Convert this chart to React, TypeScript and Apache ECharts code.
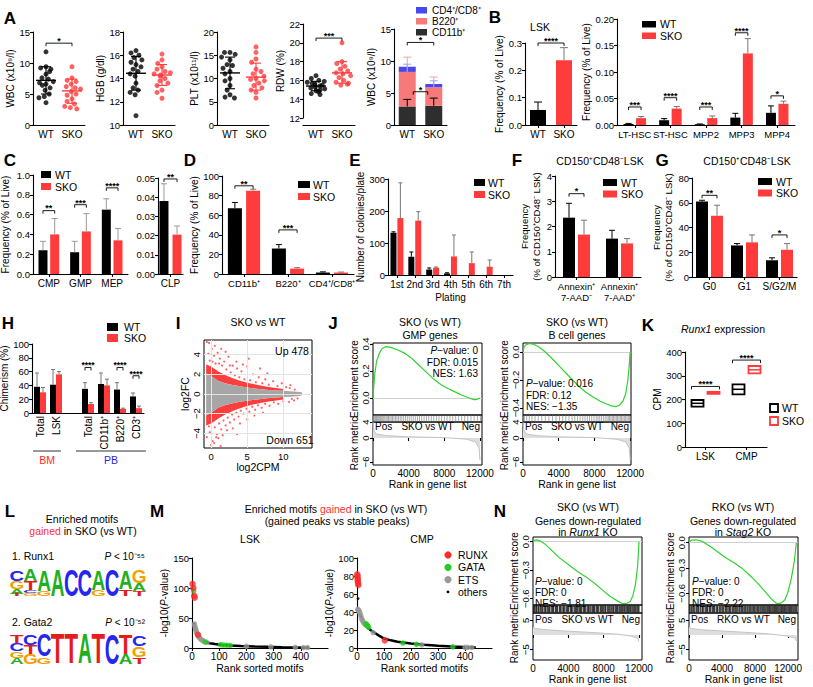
import React, { useEffect, useRef } from 'react';
import * as echarts from 'echarts';

const FONT = '"Liberation Sans", Arial, Helvetica, sans-serif';
const RED = '#ff3b3b';
const GREEN = '#2fd22f';
const W = 813;
const H = 687;

// ---------------- A ----------------
const GROUPS = ['WT', 'SKO'];
const WBC_WT = [11.8, 9.4, 9.2, 9.0, 8.6, 8.2, 7.6, 7.4, 7.0, 6.8, 6.6, 6.4, 6.0, 5.6, 5.0, 4.6, 4.4, 3.6];
const WBC_SKO = [9.4, 7.6, 7.2, 7.0, 6.6, 6.2, 6.0, 5.8, 5.4, 5.0, 4.8, 4.2, 3.8, 3.4, 3.0, 2.8, 2.6];
const WBC_STATS = [[7.2, 5.0, 9.4], [5.5, 3.5, 7.4]];
const HGB_WT = [16.4, 16.2, 16.0, 15.8, 15.6, 15.4, 15.2, 15.0, 14.8, 14.6, 14.4, 14.2, 13.6, 13.2, 13.0, 12.8, 12.6, 10.8];
const HGB_SKO = [16.1, 15.6, 15.3, 15.0, 14.8, 14.6, 14.5, 14.4, 14.3, 14.2, 14.0, 13.8, 13.6, 13.4, 13.0, 12.8, 12.3];
const HGB_STATS = [[14.45, 13.0, 15.9], [14.3, 13.4, 15.2]];
const PLT_WT = [15.6, 15.6, 15.2, 14.6, 14.0, 13.0, 12.8, 12.2, 11.5, 11.0, 10.0, 9.5, 8.5, 7.5, 6.5, 6.0, 5.8];
const PLT_SKO = [16.8, 15.6, 14.2, 13.5, 12.0, 11.5, 11.0, 10.5, 10.0, 9.8, 9.5, 9.0, 8.5, 8.0, 7.5, 7.0, 5.8];
const PLT_STATS = [[11.2, 7.8, 14.6], [10.3, 7.5, 13.3]];
const RDW_WT = [16.5, 16.2, 16.0, 15.9, 15.8, 15.7, 15.6, 15.5, 15.4, 15.3, 15.2, 15.1, 15.0, 14.9, 14.8, 14.6, 14.5];
const RDW_SKO = [20.0, 18.0, 17.8, 17.5, 17.2, 17.0, 16.8, 16.7, 16.5, 16.3, 16.0, 15.8, 15.7, 15.6, 15.5];
const RDW_STATS = [[15.4, 14.9, 15.9], [16.8, 15.7, 18.0]];
const A5_CD11B = [2.9, 3.0];
const A5_B220 = [5.4, 2.9];
const A5_T = [0.8, 0.5];
const A5_ERR = [[4.0, 4.2], [10.6, 7.5], [9.5, 6.9]];

// ---------------- B ----------------
const LSK_VALS = [0.055, 0.237];
const LSK_ERR = [0.084, 0.283];
const HSPC_CATS = ['LT-HSC', 'ST-HSC', 'MPP2', 'MPP3', 'MPP4'];
const HSPC_WT = [0.002, 0.009, 0.0015, 0.014, 0.023];
const HSPC_WT_ERR = [0.003, 0.012, 0.002, 0.022, 0.036];
const HSPC_SKO = [0.013, 0.031, 0.013, 0.135, 0.040];
const HSPC_SKO_ERR = [0.016, 0.035, 0.017, 0.163, 0.045];
const HSPC_SIG = [0.034, 0.0515, 0.034, 0.174, 0.055];
const HSPC_SIG_LBL = ['***', '****', '***', '****', '*'];

// ---------------- C ----------------
const PROG_CATS = ['CMP', 'GMP', 'MEP'];
const PROG_WT = [0.24, 0.22, 0.65];
const PROG_WT_ERR = [0.33, 0.33, 0.76];
const PROG_SKO = [0.40, 0.43, 0.34];
const PROG_SKO_ERR = [0.56, 0.61, 0.46];
const PROG_SIG = [0.64, 0.70, 0.87];
const PROG_SIG_LBL = ['**', '***', '****'];
const CLP_CATS = ['CLP'];
const CLP_WT = [0.038];
const CLP_WT_ERR = [0.047];
const CLP_SKO = [0.0205];
const CLP_SKO_ERR = [0.025];

// ---------------- D ----------------
const LIN_CATS = ['CD11b⁺', 'B220⁺', 'CD4⁺/CD8⁺'];
const LIN_WT = [67, 26, 1.5];
const LIN_WT_ERR = [73, 30, 2.2];
const LIN_SKO = [85, 5.5, 1.5];
const LIN_SKO_ERR = [86.5, 6.5, 2.0];
const LIN_SIG = [[0, 90, '**'], [1, 45, '***']];

// ---------------- E ----------------
const PLATING = ['1st', '2nd', '3rd', '4th', '5th', '6th', '7th'];
const CFU_WT = [132, 57, 17, 5, 0, 0, 0];
const CFU_WT_ERR = [135, 72, 22, 7, 0, 0, 0];
const CFU_SKO = [178, 170, 23, 58, 37, 26, 0];
const CFU_SKO_ERR = [288, 198, 25, 125, 72, 47, 0];

// ---------------- F / G ----------------
const APO_CATS = ['Annexin⁺\n7-AAD⁻', 'Annexin⁺\n7-AAD⁺'];
const APO_WT = [2.35, 1.52];
const APO_WT_ERR = [2.92, 1.85];
const APO_SKO = [1.68, 1.33];
const APO_SKO_ERR = [2.25, 1.52];
const APO_SIG = [[0, 3.3, '*']];
const CYC_CATS = ['G0', 'G1', 'S/G2/M'];
const CYC_WT = [61, 25.5, 13.5];
const CYC_WT_ERR = [62, 27, 15.5];
const CYC_SKO = [49.5, 28, 22];
const CYC_SKO_ERR = [58, 34, 27];
const CYC_SIG = [[0, 66, '**'], [2, 34, '*']];

// ---------------- H ----------------
const CHIM_CATS = ['Total', 'LSK', '', 'Total', 'CD11b⁺', 'B220⁺', 'CD3⁺'];
const CHIM_WT = [38, 41, null, 35, 42, 34, 24];
const CHIM_WT_ERR = [58, 63, null, 44, 58, 44, 29];
const CHIM_SKO = [30, 56, null, 13, 40, 6, 7];
const CHIM_SKO_ERR = [37, 60, null, 15, 49, 7, 10];
const CHIM_SIG = [[3, 66, '****'], [5, 66, '****'], [6, 54, '****']];

// ---------------- I (MA plot) ----------------
const MA_GREY = [[-0.7, 2.1], [0, 1.8], [1, 1.32], [2, 1.08], [3, 0.92], [4, 0.78], [5, 0.66], [6, 0.56], [7, 0.49], [8, 0.42], [9, 0.36], [10, 0.32], [11, 0.28], [12, 0.24], [12.6, 0.18], [12.6, -0.15], [12, -0.22], [11, -0.27], [10, -0.31], [9, -0.36], [8, -0.42], [7, -0.5], [6, -0.58], [5, -0.68], [4, -0.8], [3, -0.95], [2, -1.12], [1, -1.38], [0, -1.9], [-0.7, -2.2]];
const MA_UP_BAND = [[-0.7, 3.0], [0, 2.8], [1, 2.3], [2, 1.9], [3, 1.6], [4, 1.35], [5, 1.15], [6, 1.0], [7, 0.85], [8, 0.72], [9, 0.62], [10, 0.52], [10, 0.32], [9, 0.36], [8, 0.42], [7, 0.49], [6, 0.56], [5, 0.66], [4, 0.78], [3, 0.92], [2, 1.08], [1, 1.32], [0, 1.8], [-0.7, 2.1]];
const MA_DOWN_BAND = [[-0.7, -2.2], [0, -1.9], [1, -1.38], [2, -1.12], [3, -0.95], [4, -0.8], [5, -0.68], [6, -0.58], [7, -0.5], [8, -0.42], [9, -0.36], [10, -0.31], [10, -0.55], [9, -0.65], [8, -0.76], [7, -0.9], [6, -1.05], [5, -1.22], [4, -1.45], [3, -1.72], [2, -2.05], [1, -2.5], [0, -3.0], [-0.7, -3.2]];
const MA_UP = [[-0.6, 5.3], [-0.3, 5.2], [0.1, 4.6], [0.4, 3.9], [-0.2, 3.4], [0.6, 3.1], [0.9, 4.2], [1.2, 3.6], [1.5, 2.9], [1.8, 3.3], [2.1, 2.5], [2.4, 3.8], [2.7, 2.2], [3.0, 2.9], [3.3, 1.9], [3.6, 2.6], [3.9, 1.7], [4.2, 2.3], [4.6, 1.5], [5.0, 2.8], [5.4, 1.4], [5.8, 2.0], [6.2, 1.2], [6.6, 1.7], [7.1, 1.1], [7.5, 1.5], [8.0, 0.95], [8.6, 1.3], [9.2, 0.8], [9.8, 1.1], [10.4, 0.7], [11.0, 0.9], [0.2, 3.3], [1.1, 3.1], [2.0, 4.3], [3.5, 3.3], [4.4, 3.0], [5.2, 3.6], [6.8, 2.6], [0.5, 4.9], [1.4, 4.6], [2.6, 2.9], [-0.4, 4.1], [7.8, 2.1], [10.9, 0.6], [11.6, 0.45]];
const MA_DOWN = [[-0.6, -4.4], [-0.2, -3.9], [0.2, -4.8], [0.5, -3.4], [0.8, -4.1], [1.1, -3.0], [1.4, -3.6], [1.7, -2.7], [2.0, -3.2], [2.3, -2.4], [2.6, -2.9], [2.9, -2.1], [3.2, -2.6], [3.5, -1.9], [3.8, -2.3], [4.1, -1.7], [4.5, -2.0], [4.9, -1.5], [5.3, -1.8], [5.7, -1.3], [6.1, -1.6], [6.5, -1.15], [7.0, -1.4], [7.5, -1.0], [8.1, -1.2], [8.7, -0.85], [9.3, -1.0], [10.0, -0.75], [10.8, -0.8], [11.5, -0.65], [0.0, -5.2], [0.4, -5.0], [1.0, -4.5], [1.6, -4.2], [-0.3, -3.3], [2.2, -3.7], [3.0, -3.5], [4.0, -3.0], [5.0, -2.6], [6.0, -2.2], [7.2, -1.9], [1.3, -5.3], [0.7, -4.4], [3.6, -4.1], [11.2, -0.5], [12.0, -0.45]];
const MA_TICKS_X = [0, 5, 10];
const MA_TICKS_Y = [-4, -2, 0, 2, 4];

// ---------------- J / N (GSEA) ----------------
const RANK_TICKS = [0, 4000, 8000, 12000];
const J1_ES = [[0, 0], [80, 0.08], [200, 0.18], [400, 0.27], [700, 0.33], [1000, 0.365], [1400, 0.38], [2000, 0.375], [2800, 0.355], [3600, 0.33], [4400, 0.29], [5200, 0.24], [6000, 0.19], [6800, 0.14], [7600, 0.1], [8400, 0.07], [9200, 0.045], [10000, 0.02], [10800, 0.0], [11300, -0.012], [11700, -0.01], [12000, 0]];
const J2_ES = [[0, 0], [100, 0.03], [300, 0.05], [700, 0.06], [1200, 0.055], [1800, 0.035], [2500, 0.0], [3300, -0.05], [4200, -0.11], [5100, -0.17], [6000, -0.23], [6900, -0.28], [7800, -0.32], [8600, -0.35], [9300, -0.37], [9900, -0.385], [10400, -0.39], [10800, -0.38], [11200, -0.35], [11500, -0.3], [11750, -0.2], [11900, -0.1], [12000, 0]];
const N1_ES = [[0, 0], [150, 0.015], [400, 0.02], [800, 0.01], [1300, -0.02], [2000, -0.08], [3000, -0.17], [4000, -0.24], [5000, -0.31], [6000, -0.37], [7000, -0.44], [8000, -0.52], [8800, -0.58], [9500, -0.62], [10100, -0.65], [10600, -0.65], [11000, -0.63], [11300, -0.57], [11600, -0.45], [11850, -0.25], [12000, 0]];
const N2_ES = [[0, 0.01], [300, 0.03], [900, 0.035], [1500, 0.02], [2500, -0.04], [3500, -0.11], [4500, -0.18], [5500, -0.24], [6500, -0.31], [7500, -0.4], [8500, -0.5], [9400, -0.6], [10000, -0.67], [10600, -0.72], [11100, -0.72], [11600, -0.68], [12000, -0.58], [12400, -0.42], [12750, -0.22], [13000, 0]];
const J1_HITS = [40, 120, 210, 300, 380, 470, 560, 650, 760, 860, 980, 1090, 1210, 1330, 1470, 1600, 1740, 1890, 2040, 2190, 2350, 2520, 2690, 2870, 3050, 3240, 3440, 3640, 3850, 4060, 4280, 4510, 4740, 4980, 5220, 5470, 5730, 5990, 6260, 6540, 6820, 7110, 7400, 7700, 8000, 8310, 8630, 8950, 9280, 9610, 9950, 10290, 10640, 10990, 11340, 11700, 12050];
const J2_HITS = [150, 420, 700, 1000, 1350, 1700, 2100, 2500, 2900, 3300, 3700, 4100, 4450, 4800, 5150, 5500, 5800, 6100, 6400, 6700, 6950, 7200, 7450, 7700, 7950, 8200, 8400, 8600, 8800, 9000, 9200, 9400, 9550, 9700, 9850, 10000, 10150, 10300, 10450, 10600, 10750, 10900, 11050, 11200, 11350, 11500, 11650, 11800, 11950];
const N1_HITS = [70, 160, 330, 410, 590, 680, 870, 1010, 1120, 1340, 1420, 1610, 1790, 1850, 2060, 2230, 2310, 2540, 2660, 2790, 3020, 3110, 3290, 3480, 3520, 3750, 3890, 4010, 4230, 4370, 4420, 4660, 4810, 4930, 5070, 5240, 5390, 5460, 5680, 5820, 5910, 6130, 6270, 6350, 6540, 6720, 6860, 6940, 7150, 7280, 7390, 7610, 7730, 7880, 8020, 8170, 8240, 8460, 8590, 8710, 8860, 9040, 9130, 9320, 9470, 9560, 9740, 9860, 9990, 10120, 10280, 10390, 10540, 10680, 10790, 10930, 11060, 11210, 11340, 11480, 11610, 11770, 11890, 11990];
const N2_HITS = [90, 260, 380, 560, 710, 930, 1080, 1190, 1420, 1630, 1710, 1960, 2120, 2250, 2480, 2610, 2830, 2990, 3120, 3360, 3470, 3690, 3850, 4020, 4170, 4390, 4520, 4710, 4880, 5010, 5230, 5380, 5560, 5690, 5840, 6050, 6180, 6370, 6510, 6680, 6830, 7020, 7150, 7330, 7480, 7640, 7800, 7940, 8110, 8270, 8410, 8590, 8720, 8880, 9050, 9190, 9330, 9480, 9640, 9770, 9910, 10060, 10190, 10340, 10470, 10620, 10760, 10890, 11040, 11180, 11310, 11460, 11590, 11730, 11870, 12010, 12150, 12290, 12430, 12580, 12720, 12860, 13000];
const RM_J = [[0, 4], [100, 1.8], [400, 1.0], [1500, 0.6], [4000, 0.3], [8000, 0.1], [10500, -0.3], [11500, -1.0], [11900, -2.5], [12000, -5.5]];
const RM_N1 = [[0, 2.6], [300, 2.2], [1500, 1.8], [4000, 1.3], [7000, 0.8], [9500, 0.3], [11000, -0.3], [11800, -1.0], [12000, -2.2]];
const RM_N2 = [[0, 2.6], [300, 2.2], [1500, 1.8], [4500, 1.3], [7500, 0.8], [10000, 0.3], [11800, -0.3], [12800, -1.0], [13100, -2.2]];

// ---------------- K ----------------
const K_CATS = ['LSK', 'CMP'];
const K_WT = [[170, 184, 198], [222, 243, 264]];   // low, median, high
const K_SKO = [[224, 228, 232], [310, 325, 341]];
const K_SIG = [[0, 255, '****'], [1, 366, '****']];

// ---------------- L (motif logos, letter heights in px) ----------------
const LOGO_RUNX1 = [
  [['C', 11], ['G', 8], ['A', 5], ['T', 2]],
  [['A', 12], ['T', 9], ['C', 3], ['G', 3]],
  [['A', 21], ['G', 5]],
  [['A', 26]],
  [['C', 26]],
  [['C', 26]],
  [['A', 20], ['G', 6]],
  [['C', 26]],
  [['A', 19], ['T', 7]],
  [['G', 13], ['A', 8], ['T', 5]],
];
const LOGO_GATA2 = [
  [['T', 8], ['C', 8], ['G', 7], ['A', 6]],
  [['C', 10], ['T', 9], ['G', 10]],
  [['C', 23], ['G', 7]],
  [['T', 30]],
  [['T', 30]],
  [['A', 30]],
  [['T', 30]],
  [['C', 30]],
  [['T', 20], ['A', 10]],
  [['C', 11], ['G', 11], ['T', 7]],
];

// ---------------- M ----------------
const M1_OTHERS = [[8, 42], [10, 37], [12, 33], [15, 28], [18, 24], [22, 20], [27, 17], [33, 14], [40, 12], [50, 10], [65, 8], [85, 6.5], [110, 5], [140, 4], [180, 3.2], [230, 2.5], [280, 1.9], [330, 1.4], [380, 1], [430, 0.6]];
const M1_ETS = [[9, 40], [11, 36], [13, 32], [15, 29], [17, 26], [19, 24], [21, 22], [24, 19], [28, 17], [32, 15], [37, 13], [43, 11.5], [55, 9.5], [200, 3], [290, 1.9], [380, 1.1], [410, 0.8], [425, 0.7]];
const M1_GATA = [[6, 95], [48, 10], [105, 5.5], [115, 5], [127, 4.6], [140, 4.2]];
const M1_RUNX = [[2, 107], [5, 100], [8, 87], [10, 84], [22, 22]];
const M2_OTHERS = [[6, 41], [9, 39], [12, 37], [16, 34], [20, 31], [25, 28], [30, 26], [40, 23], [50, 20], [65, 17], [80, 14], [100, 10.5], [125, 8.5], [150, 7], [200, 5], [250, 3.7], [300, 2.6], [350, 1.7], [400, 1], [440, 0.5]];
const M2_OTHER_PTS = [[4, 55]];
const M2_ETS = [[3, 43], [5, 42], [7, 41.5], [9, 40], [12, 38], [15, 35], [18, 32], [21, 30], [25, 28], [30, 26], [60, 17], [240, 3.5], [400, 0.8], [410, 0.7], [425, 0.6]];
const M2_GATA = [[33, 27], [36, 26], [38, 25], [40, 24], [43, 23], [170, 5.5], [220, 4], [355, 1.3]];
const M2_RUNX = [[1, 82], [2, 80], [2, 78], [3, 76], [3, 74], [4, 72], [5, 70], [103, 8.5]];

const LETTER_COLORS: any = { A: '#1fb01f', C: '#2626ee', G: '#f5a000', T: '#e61c1c' };
const LETTER_INK: any = { A: 0.70, C: 0.66, G: 0.70, T: 0.60 };

function buildOption(): any {
  const grids: any[] = [];
  const xAxes: any[] = [];
  const yAxes: any[] = [];
  const series: any[] = [];
  const gfx: any[] = [];
  const AX = { color: '#000', width: 1.1 };
  const ts = (size: number, extra: any = {}) => ({ fontFamily: FONT, fontSize: size, color: '#000', ...extra });
  const fmtFixed = (d: number) => (v: number) => v.toFixed(d);
  const fmtSigned = (d: number) => (v: number) => (v < 0 ? '−' : '') + Math.abs(v).toFixed(d);
  const fmtPlain = (v: number) => String(v);

  const addGrid = (l: number, t: number, w: number, h: number, xa: any, ya: any, border = false) => {
    const i = grids.length;
    grids.push({ left: l, top: t, width: w, height: h, containLabel: false, outerBoundsMode: 'none', show: border, borderColor: '#000', borderWidth: 1, backgroundColor: 'rgba(0,0,0,0)' });
    xAxes.push({ gridIndex: i, ...xa });
    yAxes.push({ gridIndex: i, ...ya });
    return i;
  };

  const yVal = (min: number, max: number, interval: number, name: string, gap: number, fmt?: any, nameStyle?: any) => ({
    type: 'value', min, max, interval,
    name: name || '', nameLocation: 'middle', nameGap: gap, nameTextStyle: nameStyle || ts(10),
    axisLine: { show: true, lineStyle: AX },
    axisTick: { show: true, length: 3, lineStyle: AX },
    axisLabel: fmt ? { ...ts(9.5), margin: 3, formatter: fmt } : { ...ts(9.5), margin: 3 },
    splitLine: { show: false },
  });

  const xCat = (data: string[], o: any = {}) => ({
    type: 'category', data,
    axisLine: { show: true, lineStyle: AX },
    axisTick: { show: o.ticks !== false, alignWithLabel: true, length: 3, lineStyle: AX },
    axisLabel: { ...ts(o.size || 10), margin: o.margin ?? 4, interval: 0, rotate: o.rotate || 0, lineHeight: o.lineHeight || 11, overflow: 'none', hideOverlap: false },
    splitLine: { show: false },
    ...(o.extra || {}),
  });

  const barS = (gi: number, data: any[], color: string, width: number, gap = '30%', extra: any = {}) => ({
    type: 'bar', xAxisIndex: gi, yAxisIndex: gi, data: data.map((v) => (v == null ? '-' : v)),
    barWidth: width, barGap: gap, itemStyle: { color }, silent: true, ...extra,
  });

  const errS = (gi: number, base: any[], tops: any[], off: number, color: any, cap = 3, lw = 1) => ({
    type: 'custom', xAxisIndex: gi, yAxisIndex: gi, silent: true, clip: false, z: 5,
    data: base.map((v, i) => [i, v, tops[i]]).filter((r) => r[1] != null && r[2] != null && r[2] > r[1]),
    renderItem: (p: any, api: any) => {
      const i = api.value(0);
      const a = api.coord([i, api.value(1)]);
      const b = api.coord([i, api.value(2)]);
      const x = a[0] + off;
      const c = Array.isArray(color) ? color[i] : color;
      return {
        type: 'group', children: [
          { type: 'line', shape: { x1: x, y1: a[1], x2: x, y2: b[1] }, style: { stroke: c, lineWidth: lw } },
          { type: 'line', shape: { x1: x - cap, y1: b[1], x2: x + cap, y2: b[1] }, style: { stroke: c, lineWidth: lw } },
        ],
      };
    },
  });

  const sigS = (gi: number, rows: any[], offL: number, offR: number, size = 9) => ({
    type: 'custom', xAxisIndex: gi, yAxisIndex: gi, silent: true, clip: false, z: 6,
    data: rows.map((r) => [r[0], r[2], r[1]]),
    renderItem: (p: any, api: any) => {
      const r = rows[p.dataIndex];
      const a = api.coord([r[0], r[2]]);
      const b = api.coord([r[1], r[2]]);
      const x1 = a[0] + offL;
      const x2 = b[0] + offR;
      const y = a[1];
      return {
        type: 'group', children: [
          { type: 'polyline', shape: { points: [[x1, y + 3], [x1, y], [x2, y], [x2, y + 3]] }, style: { stroke: '#000', lineWidth: 0.9, fill: 'none' } },
          { type: 'text', x: (x1 + x2) / 2, y: y - 2.2, style: { text: r[3], fontFamily: FONT, fontSize: size, fontWeight: 'bold', fill: '#000', align: 'center', verticalAlign: 'middle' } },
        ],
      };
    },
  });

  const meanSdS = (gi: number, stats: number[][]) => ({
    type: 'custom', xAxisIndex: gi, yAxisIndex: gi, silent: true, clip: false, z: 6,
    data: stats.map((s, i) => [i, s[0], s[1], s[2]]),
    renderItem: (p: any, api: any) => {
      const i = api.value(0);
      const col = i === 0 ? '#000' : RED;
      const m = api.coord([i, api.value(1)]);
      const lo = api.coord([i, api.value(2)]);
      const hi = api.coord([i, api.value(3)]);
      const x = m[0];
      const ln = (x1: number, y1: number, x2: number, y2: number, w: number) => ({ type: 'line', shape: { x1, y1, x2, y2 }, style: { stroke: col, lineWidth: w } });
      return { type: 'group', children: [ln(x - 10, m[1], x + 10, m[1], 1.4), ln(x, lo[1], x, hi[1], 1.1), ln(x - 5, lo[1], x + 5, lo[1], 1.1), ln(x - 5, hi[1], x + 5, hi[1], 1.1)] };
    },
  });

  const polyS = (gi: number, pts: number[][], fill: string, z = 2) => ({
    type: 'custom', xAxisIndex: gi, yAxisIndex: gi, silent: true, z, data: pts,
    renderItem: (p: any, api: any) => (p.dataIndex === 0 ? { type: 'polygon', shape: { points: pts.map((q) => api.coord(q)) }, style: { fill } } : null),
  });

  const scat = (gi: number, data: number[][], color: string, size: number, z = 4) => ({
    type: 'scatter', xAxisIndex: gi, yAxisIndex: gi, data, symbolSize: size, itemStyle: { color }, silent: true, z,
  });

  const text = (x: number, y: number, s: string, size = 9, ex: any = {}) => {
    gfx.push({ type: 'text', x, y, silent: true, z: 100, style: { text: s, fontFamily: FONT, fontSize: size, fill: '#000', align: 'center', verticalAlign: 'middle', ...ex } });
  };
  const rect = (x: number, y: number, w: number, h: number, fill: string, ex: any = {}) => {
    gfx.push({ type: 'rect', silent: true, z: 100, shape: { x, y, width: w, height: h }, style: { fill, ...ex } });
  };
  const gline = (x1: number, y1: number, x2: number, y2: number, color = '#000', w = 1) => {
    gfx.push({ type: 'line', silent: true, z: 100, shape: { x1, y1, x2, y2 }, style: { stroke: color, lineWidth: w } });
  };
  const letter = (x: number, y: number, s: string) => text(x, y, s, 17, { fontWeight: 'bold' });
  const legend2 = (x: number, y: number, dy: number, w: number, h: number, tx: number, size = 10.5) => {
    rect(x, y, w, h, '#000');
    rect(x, y + dy, w, h, RED);
    text(tx, y + h / 2, 'WT', size, { align: 'left' });
    text(tx, y + dy + h / 2, 'SKO', size, { align: 'left' });
  };

  const ERRG = '#777';

  // ===== Panel A =====
  const dot = (l: number, t: number, w: number, h: number, min: number, max: number, int: number, name: string, gap: number, wt: number[], sko: number[], stats: number[][], sig: any, xOff = 0) => {
    const gi = addGrid(l, t, w, h, xCat(GROUPS, { ticks: false, extra: { jitter: 18, jitterOverlap: false, jitterMargin: 0.5, offset: xOff } }), yVal(min, max, int, name, gap));
    series.push(scat(gi, wt.map((v) => [0, v]), '#000', 5));
    series.push(scat(gi, sko.map((v) => [1, v]), RED, 5));
    series.push(meanSdS(gi, stats));
    if (sig) series.push(sigS(gi, [[0, 1, sig[0], sig[1]]], 0, 0));
  };
  letter(10, 18, 'A');
  dot(33, 32, 52, 93, 0, 15, 5, 'WBC (x10⁹/l)', 13, WBC_WT, WBC_SKO, WBC_STATS, [13.2, '*']);
  dot(123, 32, 52, 93, 10, 18, 2, 'HGB (g/dl)', 15, HGB_WT, HGB_SKO, HGB_STATS, null);
  dot(217, 32, 52, 93, 0, 20, 5, 'PLT (x10¹¹/l)', 18, PLT_WT, PLT_SKO, PLT_STATS, null);
  dot(303, 24, 52, 94, 12, 22, 2, 'RDW (%)', 12, RDW_WT, RDW_SKO, RDW_STATS, [20.5, '***'], 7);

  const a5 = addGrid(394, 29, 53, 96, xCat(GROUPS, { ticks: false }), yVal(0, 15, 5, 'WBC (x10⁹/l)', 18));
  const layers = [A5_CD11B, A5_B220, A5_T];
  const layerCols = ['#2e2e2e', '#f77a7a', '#4747f0'];
  const layerErr = ['#000', '#f7a0a0', '#8fa8ff'];
  let cum = [0, 0];
  layers.forEach((arr, k) => {
    series.push(barS(a5, arr, layerCols[k], 17, '30%', { stack: 'wbc' }));
    cum = cum.map((c, i) => c + arr[i]);
    series.push(errS(a5, cum.slice(), A5_ERR[k], 0, layerErr[k], 4, 1));
  });
  series.push(sigS(a5, [[0, 1, 12.9, '*']], 0, 0));
  series.push(sigS(a5, [[0, 1, 5.2, '*']], 6, -6));
  rect(416, 7, 11, 6.5, '#4747f0'); text(432, 10.3, 'CD4⁺/CD8⁺', 10, { align: 'left' });
  rect(416, 18, 11, 6.5, '#f77a7a'); text(432, 21.3, 'B220⁺', 10, { align: 'left' });
  rect(416, 29, 11, 6.5, '#2e2e2e'); text(432, 32.3, 'CD11b⁺', 10, { align: 'left' });

  // ===== Panel B =====
  letter(495, 17, 'B');
  const b1 = addGrid(525, 43, 52, 82, xCat(GROUPS), yVal(0, 0.3, 0.1, 'Frequency (% of Live)', 17, fmtFixed(1)));
  series.push({ ...barS(b1, LSK_VALS, '#000', 16), data: LSK_VALS.map((v, i) => ({ value: v, itemStyle: { color: i ? RED : '#000' } })) });
  series.push(errS(b1, LSK_VALS, LSK_ERR, 0, ['#000', ERRG], 4));
  series.push(sigS(b1, [[0, 1, 0.3, '****']], 0, 0));
  text(540, 27, 'LSK', 10.5);

  const b2 = addGrid(617, 19, 178, 106, xCat(HSPC_CATS, { size: 9.5 }), yVal(0, 0.2, 0.05, 'Frequency (% of Live)', 22, fmtFixed(2)));
  const ob2 = (10 * 1.25) / 2;
  series.push(barS(b2, HSPC_WT, '#000', 10, '25%'), barS(b2, HSPC_SKO, RED, 10, '25%'));
  series.push(errS(b2, HSPC_WT, HSPC_WT_ERR, -ob2, '#000'), errS(b2, HSPC_SKO, HSPC_SKO_ERR, ob2, ERRG));
  series.push(sigS(b2, HSPC_SIG.map((y, i) => [i, i, y, HSPC_SIG_LBL[i]]), -ob2, ob2));
  legend2(642, 21, 11.5, 14, 6.5, 660);

  // ===== Panel C =====
  letter(10, 160, 'C');
  const c1 = addGrid(33, 175, 95, 99, xCat(PROG_CATS), yVal(0, 1, 0.2, 'Frequency (% of Live)', 23, fmtFixed(1)));
  const oc = (9 * 1.3) / 2;
  series.push(barS(c1, PROG_WT, '#000', 9, '30%'), barS(c1, PROG_SKO, RED, 9, '30%'));
  series.push(errS(c1, PROG_WT, PROG_WT_ERR, -oc, '#999'), errS(c1, PROG_SKO, PROG_SKO_ERR, oc, '#999'));
  series.push(sigS(c1, PROG_SIG.map((y, i) => [i, i, y, PROG_SIG_LBL[i]]), -oc, oc));
  legend2(41, 171, 12, 10, 7, 55);
  const c2 = addGrid(158, 178, 25, 96, xCat(CLP_CATS), yVal(0, 0.05, 0.01, '', 0, fmtFixed(2)));
  const oc2 = (9 * 1.45) / 2;
  series.push(barS(c2, CLP_WT, '#000', 9, '45%'), barS(c2, CLP_SKO, RED, 9, '45%'));
  series.push(errS(c2, CLP_WT, CLP_WT_ERR, -oc2, '#999'), errS(c2, CLP_SKO, CLP_SKO_ERR, oc2, '#999'));
  series.push(sigS(c2, [[0, 0, 0.0495, '**']], -oc2, oc2));

  // ===== Panel D =====
  letter(190, 160, 'D');
  const d = addGrid(222, 176, 132, 98, xCat(LIN_CATS, { size: 9.5 }), yVal(0, 100, 20, 'Frequency (% of Live)', 19));
  const od = (14 * 1.3) / 2;
  series.push(barS(d, LIN_WT, '#000', 14, '30%'), barS(d, LIN_SKO, RED, 14, '30%'));
  series.push(errS(d, LIN_WT, LIN_WT_ERR, -od, '#000'), errS(d, LIN_SKO, LIN_SKO_ERR, od, ERRG));
  series.push(sigS(d, LIN_SIG.map((r) => [r[0], r[0], r[1], r[2]]), -od, od));
  legend2(298, 181, 12, 12, 7, 313);

  // ===== Panel E =====
  letter(355, 160, 'E');
  const e = addGrid(388, 179, 125, 96,
    { ...xCat(PLATING), name: 'Plating', nameLocation: 'middle', nameGap: 17, nameTextStyle: ts(10) },
    yVal(0, 300, 100, 'Number of colonies/plate', 21));
  const oe = (6 * 1.15) / 2;
  series.push(barS(e, CFU_WT, '#000', 6, '15%'), barS(e, CFU_SKO, RED, 6, '15%'));
  series.push(errS(e, CFU_WT, CFU_WT_ERR, -oe, '#000', 2), errS(e, CFU_SKO, CFU_SKO_ERR, oe, ERRG, 2));
  legend2(474, 179, 12, 11, 7, 488);

  // ===== Panel F =====
  letter(517, 160, 'F');
  text(600, 161, 'CD150⁺CD48⁻LSK', 10.5);
  const f = addGrid(555, 176, 86, 101, xCat(APO_CATS, { size: 9.5 }), yVal(0, 4, 1, 'Frequency\n(% of CD150⁺CD48⁻ LSK)', 8, undefined, { ...ts(9.5), lineHeight: 12 }));
  const of = (12 * 1.25) / 2;
  series.push(barS(f, APO_WT, '#000', 12, '25%'), barS(f, APO_SKO, RED, 12, '25%'));
  series.push(errS(f, APO_WT, APO_WT_ERR, -of, '#000'), errS(f, APO_SKO, APO_SKO_ERR, of, ERRG));
  series.push(sigS(f, APO_SIG.map((r) => [r[0], r[0], r[1], r[2]]), -of, of));
  legend2(603, 179, 11.5, 14, 7, 621);

  // ===== Panel G =====
  letter(662, 160, 'G');
  text(747, 161, 'CD150⁺CD48⁻LSK', 10.5);
  const g = addGrid(692, 178, 105, 99, xCat(CYC_CATS), yVal(0, 80, 20, 'Frequency\n(% of CD150⁺CD48⁻ LSK)', 14, undefined, { ...ts(9.5), lineHeight: 12 }));
  const og = (12 * 1.25) / 2;
  series.push(barS(g, CYC_WT, '#000', 12, '25%'), barS(g, CYC_SKO, RED, 12, '25%'));
  series.push(errS(g, CYC_WT, CYC_WT_ERR, -og, '#000'), errS(g, CYC_SKO, CYC_SKO_ERR, og, ERRG));
  series.push(sigS(g, CYC_SIG.map((r) => [r[0], r[0], r[1], r[2]]), -og, og));
  legend2(758, 178, 11.5, 14, 7, 776);

  // ===== Panel H =====
  letter(8, 323, 'H');
  const h = addGrid(32, 344, 112, 69, xCat(CHIM_CATS, { ticks: false, rotate: 90, size: 10, margin: 3 }), yVal(0, 100, 20, 'Chimerism (%)', 17));
  series.push(barS(h, CHIM_WT, '#000', 6, '0%'), barS(h, CHIM_SKO, RED, 6, '0%'));
  series.push(errS(h, CHIM_WT, CHIM_WT_ERR, -3, ERRG, 2), errS(h, CHIM_SKO, CHIM_SKO_ERR, 3, ERRG, 2));
  series.push(sigS(h, CHIM_SIG.map((r) => [r[0], r[0], r[1], r[2]]), -3, 3, 8.5));
  legend2(107, 323, 11, 11, 8, 124);
  gline(33, 451, 61, 451, '#333', 1);
  gline(76, 451, 146, 451, '#333', 1);
  text(47, 460, 'BM', 10.5, { fill: '#ff2a2a' });
  text(111, 460, 'PB', 10.5, { fill: '#2a2ad8' });

  // ===== Panel I =====
  letter(178, 323, 'I');
  text(258, 322, 'SKO vs WT', 10.5);
  const ia = addGrid(204, 340, 108, 108,
    { type: 'value', min: -1, max: 14, name: 'log2CPM', nameLocation: 'middle', nameGap: 12, nameTextStyle: ts(10.5),
      axisLine: { show: false }, axisTick: { show: true, length: 3, lineStyle: AX, customValues: MA_TICKS_X },
      axisLabel: { ...ts(9.5), margin: 3, customValues: MA_TICKS_X }, splitLine: { show: false } },
    { type: 'value', min: -5.5, max: 5.5, name: 'log2FC', nameLocation: 'middle', nameGap: 10, nameTextStyle: ts(10.5),
      axisLine: { show: false }, axisTick: { show: true, length: 3, lineStyle: AX, customValues: MA_TICKS_Y },
      axisLabel: { ...ts(9.5), margin: 3, rotate: 90, customValues: MA_TICKS_Y, formatter: fmtSigned(0) }, splitLine: { show: false } },
    true);
  series.push({
    ...scat(ia, MA_DOWN, RED, 2.2, 1),
    markLine: {
      silent: true, symbol: 'none', label: { show: false }, lineStyle: { color: '#e4e4e4', type: 'solid', width: 1 },
      data: [...MA_TICKS_X.map((v) => ({ xAxis: v })), ...MA_TICKS_Y.map((v) => ({ yAxis: v }))],
    },
  });
  series.push(polyS(ia, MA_UP_BAND, 'rgba(255,40,40,0.9)', 2));
  series.push(polyS(ia, MA_DOWN_BAND, 'rgba(255,40,40,0.9)', 2));
  series.push(polyS(ia, MA_GREY, '#a6a6a6', 3));
  series.push(scat(ia, MA_UP, RED, 2.2, 4));
  text(292, 351, 'Up 478', 10.5);
  text(290, 440, 'Down 651', 10.5);

  // ===== GSEA helper =====
  const gsea = (o: any) => {
    const xHid = { type: 'value', min: 0, max: o.xMax, show: false };
    const yAx = (min: number, max: number, ticks: number[], name: string, fmt: any) => ({
      type: 'value', min, max, name, nameLocation: 'middle', nameGap: o.nameGap, nameTextStyle: ts(10),
      axisLine: { show: false }, axisTick: { show: true, length: 3, lineStyle: AX, customValues: ticks },
      axisLabel: { ...ts(9.5), rotate: 90, margin: 3, customValues: ticks, formatter: fmt }, splitLine: { show: false },
    });
    const es = addGrid(o.l, o.top, o.w, o.esH, xHid, yAx(o.esMin, o.esMax, o.esTicks, 'Enrichment score', fmtSigned(1)), true);
    series.push({
      type: 'line', xAxisIndex: es, yAxisIndex: es, data: o.curve, showSymbol: false, silent: true, z: 5,
      lineStyle: { color: GREEN, width: 1.2 }, itemStyle: { color: GREEN },
      markLine: { silent: true, symbol: 'none', label: { show: false }, lineStyle: { color: '#d0d0d0', type: 'solid', width: 1 }, data: [{ yAxis: 0 }] },
    });
    const bc = addGrid(o.l, o.top + o.esH, o.w, o.bcH, xHid, { type: 'value', min: 0, max: 1, show: false }, true);
    series.push({ type: 'scatter', xAxisIndex: bc, yAxisIndex: bc, data: o.hits.map((v: number) => [v, 0.5]), symbol: 'rect', symbolSize: [o.hitW, o.bcH - 1], itemStyle: { color: o.hitColor }, silent: true });
    const rmTop = o.top + o.esH + o.bcH;
    const rm = addGrid(o.l, rmTop, o.w, o.rmH,
      { type: 'value', min: 0, max: o.xMax, name: 'Rank in gene list', nameLocation: 'middle', nameGap: 13, nameTextStyle: ts(10.5),
        axisLine: { show: false }, axisTick: { show: true, length: 3, lineStyle: AX, customValues: RANK_TICKS },
        axisLabel: { ...ts(10), margin: 3, customValues: RANK_TICKS, formatter: fmtPlain }, splitLine: { show: false } },
      yAx(o.rmMin, o.rmMax, o.rmTicks, 'Rank metric', fmtSigned(0)), true);
    series.push({ type: 'line', xAxisIndex: rm, yAxisIndex: rm, data: o.rm, showSymbol: false, silent: true, lineStyle: { color: '#c4c4c4', width: 1 }, areaStyle: { color: '#dedede', opacity: 1 } });
    o.stats.forEach((s: string, i: number) => text(o.statX, o.statYs[i], s, 10, { align: o.statAlign, rich: { i: { fontStyle: 'italic', fontFamily: FONT, fontSize: 10 } } }));
    text(o.l + 2, o.posY, 'Pos', 10, { align: 'left' });
    text(o.l + o.w / 2, o.posY, o.mid, 10);
    text(o.l + o.w - 2, o.posY, 'Neg', 10, { align: 'right' });
  };

  // ===== Panel J =====
  letter(333, 323, 'J');
  text(430, 322, 'SKO (vs WT)', 10.5);
  text(430, 335, 'GMP genes', 10.5);
  gsea({ l: 373, w: 109, top: 343, esH: 72, bcH: 7, rmH: 43, esMin: -0.126, esMax: 0.407, esTicks: [0, 0.2, 0.4], rmMin: -6.75, rmMax: 4, rmTicks: [-6, 0, 4],
    xMax: 12230, curve: J1_ES, hits: J1_HITS, hitColor: '#8c8c8c', hitW: 0.9, rm: RM_J, nameGap: 12,
    stats: ['{i|P}−value: 0', 'FDR: 0.015', 'NES: 1.63'], statX: 478, statAlign: 'right', statYs: [350, 362, 373], posY: 426, mid: 'SKO vs WT' });
  text(577, 322, 'SKO (vs WT)', 10.5);
  text(577, 335, 'B cell genes', 10.5);
  gsea({ l: 523, w: 108, top: 343, esH: 72, bcH: 7, rmH: 43, esMin: -0.45, esMax: 0.064, esTicks: [-0.4, -0.2, 0], rmMin: -6.75, rmMax: 4, rmTicks: [-6, 0, 4],
    xMax: 12100, curve: J2_ES, hits: J2_HITS, hitColor: '#8c8c8c', hitW: 0.9, rm: RM_J, nameGap: 12,
    stats: ['{i|P}−value: 0.016', 'FDR: 0.12', 'NES: −1.35'], statX: 526, statAlign: 'left', statYs: [383, 395, 406], posY: 426, mid: 'SKO vs WT' });

  // ===== Panel K =====
  letter(648, 325, 'K');
  text(723, 329, '{i|Runx1} expression', 10.5, { rich: { i: { fontStyle: 'italic', fontFamily: FONT, fontSize: 10.5 } } });
  const k = addGrid(685, 352, 82, 95, xCat(K_CATS), yVal(0, 400, 100, 'CPM', 23));
  series.push({
    type: 'custom', xAxisIndex: k, yAxisIndex: k, silent: true, z: 5,
    data: [...K_WT.map((b, i) => [i, b[1], b[0], b[2], -1]), ...K_SKO.map((b, i) => [i, b[1], b[0], b[2], 1])],
    renderItem: (p: any, api: any) => {
      const c = api.value(0);
      const side = api.value(4);
      const col = side < 0 ? '#000' : RED;
      const m = api.coord([c, api.value(1)]);
      const lo = api.coord([c, api.value(2)]);
      const hi = api.coord([c, api.value(3)]);
      const x = m[0] + side * 8;
      return {
        type: 'group', children: [
          { type: 'rect', shape: { x: x - 6, y: hi[1], width: 12, height: lo[1] - hi[1] }, style: { fill: 'none', stroke: col, lineWidth: 1.8 } },
          { type: 'line', shape: { x1: x - 6, y1: m[1], x2: x + 6, y2: m[1] }, style: { stroke: col, lineWidth: 1.5 } },
        ],
      };
    },
  });
  series.push(sigS(k, K_SIG.map((r) => [r[0], r[0], r[1], r[2]]), -14, 14));
  rect(770, 404, 8, 8, 'none', { stroke: '#000', lineWidth: 1.8 });
  text(782, 408, 'WT', 10.5, { align: 'left' });
  rect(770, 417, 8, 8, 'none', { stroke: RED, lineWidth: 1.8 });
  text(782, 421, 'SKO', 10.5, { align: 'left' });

  // ===== Panel L =====
  letter(10, 511, 'L');
  text(82, 519, 'Enriched motifs', 10.5);
  text(83, 531, '{r|gained} in SKO (vs WT)', 10.5, { rich: { r: { fill: '#ff3030', color: '#ff3030', fontFamily: FONT, fontSize: 10.5 } } });
  text(12, 556, '1. Runx1', 10.5, { align: 'left' });
  text(145, 556, '{i|P} < 10⁻⁵⁵', 10, { align: 'right', rich: { i: { fontStyle: 'italic', fontFamily: FONT, fontSize: 10 } } });
  text(12, 622, '2. Gata2', 10.5, { align: 'left' });
  text(145, 622, '{i|P} < 10⁻⁵²', 10, { align: 'right', rich: { i: { fontStyle: 'italic', fontFamily: FONT, fontSize: 10 } } });
  const drawLogo = (logo: any[], x0: number, colW: number, base: number) => {
    logo.forEach((col: any[], ci: number) => {
      let yb = base;
      const xc = x0 + (ci + 0.5) * colW;
      for (let j = col.length - 1; j >= 0; j--) {
        const [ch, hh] = col[j];
        const S = 20;
        gfx.push({
          type: 'text', x: xc, y: yb - hh / 2, silent: true, z: 100,
          scaleX: (colW * 0.98) / (LETTER_INK[ch] * S), scaleY: hh / (0.716 * S),
          style: { text: ch, fontFamily: FONT, fontWeight: 'bold', fontSize: S, fill: LETTER_COLORS[ch], align: 'center', verticalAlign: 'middle' },
        });
        yb -= hh;
      }
    });
  };
  drawLogo(LOGO_RUNX1, 10, 13.6, 596);
  drawLogo(LOGO_GATA2, 10, 13.6, 664);

  // ===== Panel M =====
  letter(157, 511, 'M');
  text(336, 509, 'Enriched motifs {r|gained} in SKO (vs WT)', 10.5, { rich: { r: { fill: '#ff3030', color: '#ff3030', fontFamily: FONT, fontSize: 10.5 } } });
  text(337, 521, '(gained peaks vs stable peaks)', 10.5);
  text(250, 539, 'LSK', 10.5);
  text(422, 539, 'CMP', 10.5);
  const xRank = () => ({
    type: 'value', min: 0, max: 500, interval: 100, name: 'Rank sorted motifs', nameLocation: 'middle', nameGap: 14, nameTextStyle: ts(10.5),
    axisLine: { show: true, lineStyle: AX }, axisTick: { show: true, length: 3, lineStyle: AX },
    axisLabel: { ...ts(10), margin: 3, showMaxLabel: false }, splitLine: { show: false },
  });
  const pName = { ...ts(10), rich: { i: { fontStyle: 'italic', fontFamily: FONT, fontSize: 10 } } };
  const m1 = addGrid(192, 558, 136, 90, xRank(), yVal(0, 150, 50, '-log10({i|P}-value)', 19, undefined, pName));
  series.push({ type: 'line', xAxisIndex: m1, yAxisIndex: m1, data: M1_OTHERS, showSymbol: false, silent: true, lineStyle: { color: '#000', width: 2.5 }, z: 3 });
  series.push(scat(m1, M1_ETS, '#9a9a9a', 5.5, 4), scat(m1, M1_GATA, '#22cc22', 5.5, 5), scat(m1, M1_RUNX, '#ff2a2a', 6.5, 6));
  const m2 = addGrid(357, 558, 135, 90, xRank(), yVal(0, 100, 20, '-log10({i|P}-value)', 15, undefined, pName));
  series.push({ type: 'line', xAxisIndex: m2, yAxisIndex: m2, data: M2_OTHERS, showSymbol: false, silent: true, lineStyle: { color: '#000', width: 2.5 }, z: 3 });
  series.push(scat(m2, M2_OTHER_PTS, '#000', 3, 3), scat(m2, M2_ETS, '#9a9a9a', 5.5, 4), scat(m2, M2_GATA, '#22cc22', 5.5, 5), scat(m2, M2_RUNX, '#ff2a2a', 6.5, 6));
  const legM = [['RUNX', '#ff2a2a', 3.6], ['GATA', '#22cc22', 3.6], ['ETS', '#9a9a9a', 3.6], ['others', '#000', 1.4]];
  legM.forEach((r: any, i: number) => {
    gfx.push({ type: 'circle', silent: true, z: 100, shape: { cx: 448, cy: 555 + i * 12.3, r: r[2] }, style: { fill: r[1] } });
    text(458, 555 + i * 12.3, r[0], 10.5, { align: 'left' });
  });

  // ===== Panel N =====
  letter(500, 511, 'N');
  const nTitle = (x: number, a: string, b: string) => {
    text(x, 507, a, 10.5);
    text(x, 521, 'Genes down-regulated', 10.5);
    text(x, 532, 'in {i|' + b + '} KO', 10.5, { rich: { i: { fontStyle: 'italic', fontFamily: FONT, fontSize: 10.5 } } });
  };
  nTitle(588, 'SKO (vs WT)', 'Runx1');
  nTitle(743, 'RKO (vs WT)', 'Stag2');
  gsea({ l: 533, w: 109, top: 537, esH: 68, bcH: 8, rmH: 47, esMin: -0.666, esMax: 0.05, esTicks: [-0.6, -0.3, 0], rmMin: -8.5, rmMax: 7.5, rmTicks: [-5, 5],
    xMax: 12340, curve: N1_ES, hits: N1_HITS, hitColor: '#151515', hitW: 1.4, rm: RM_N1, nameGap: 12,
    stats: ['{i|P}−value: 0', 'FDR: 0', 'NES: −1.81'], statX: 535, statAlign: 'left', statYs: [581, 592, 603], posY: 619, mid: 'SKO vs WT' });
  gsea({ l: 689, w: 109, top: 537, esH: 68, bcH: 8, rmH: 47, esMin: -0.739, esMax: 0.068, esTicks: [-0.6, -0.3, 0], rmMin: -8.5, rmMax: 7.5, rmTicks: [-5, 5],
    xMax: 13200, curve: N2_ES, hits: N2_HITS, hitColor: '#151515', hitW: 1.4, rm: RM_N2, nameGap: 12,
    stats: ['{i|P}−value: 0', 'FDR: 0', 'NES: −2.22'], statX: 692, statAlign: 'left', statYs: [581, 592, 603], posY: 619, mid: 'RKO vs WT' });

  return {
    animation: false,
    backgroundColor: '#fff',
    textStyle: { fontFamily: FONT },
    grid: grids,
    xAxis: xAxes,
    yAxis: yAxes,
    series,
    graphic: { elements: gfx },
  };
}

export default function App() {
  const ref = useRef<HTMLDivElement>(null);
  useEffect(() => {
    const prev = document.body.style.margin;
    document.body.style.margin = '0';
    const chart = echarts.init(ref.current as HTMLDivElement, null, { renderer: 'svg', width: W, height: H });
    chart.setOption(buildOption());
    return () => {
      chart.dispose();
      document.body.style.margin = prev;
    };
  }, []);
  return <div ref={ref} style={{ width: W, height: H, position: 'absolute', left: 0, top: 0, background: '#fff' }} />;
}
